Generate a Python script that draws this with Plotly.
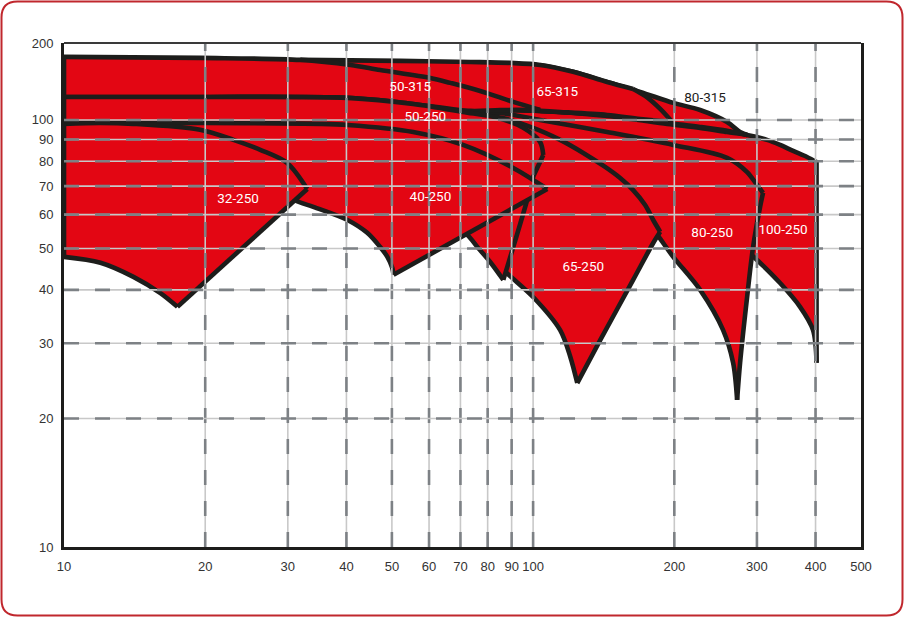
import numpy as np
import plotly.graph_objects as go

# ---------------- data (Q in m3/h, H in m) ----------------
x_ticks = [10, 20, 30, 40, 50, 60, 70, 80, 90, 100, 200, 300, 400, 500]
x_tick_text = ["10", "20", "30", "40", "50", "60", "70", "80", "90", "100", "200", "300", "400", "500"]
y_ticks = [10, 20, 30, 40, 50, 60, 70, 80, 90, 100]
y_top = 151.4
y_tick_text = ["10", "20", "30", "40", "50", "60", "70", "80", "90", "100", "200"]

grid_x = [20, 30, 40, 50, 60, 70, 80, 90, 100, 200, 300, 400]
grid_y = [20, 30, 40, 50, 60, 70, 80, 90, 100]

# pump ranges: closed outlines (max impeller -> end line -> min impeller);
# corner_* lists the point indices where the outline has a sharp corner
q_100_250 = [85.1, 103.5, 143.8, 193.1, 227, 259.1, 285.9, 315.2, 336.1, 358.3, 383.6, 402, 402,
             395.1, 370.7, 336.1, 300.2, 276.2, 227, 186.6, 139, 103.5, 87.2]
h_100_250 = [105.5, 105.0, 102.2, 97.9, 95.8, 93.7, 92.2, 89.8, 87.4, 84.6, 81.9, 79.7, 27.0,
             32.2, 36.5, 41.5, 47.0, 51.0, 60.9, 70.4, 85.1, 96.8, 104.4]
corner_100_250 = [0, 11, 12, 22]

q_80_250 = [73.5, 85.1, 103.5, 143.8, 198.9, 259.1, 285.9, 300.2, 309.2, 304.7, 294.4, 285.9, 276.2, 272.2,
            266.9, 254.1, 227, 198.9, 184.7, 169.1, 146, 126, 103.5, 89.4]
h_80_250 = [103.8, 103.8, 100.0, 93.7, 87.4, 81.5, 75.5, 70.4, 67.5, 62.6, 50.4, 38.5, 27.0, 22.1,
            27.0, 32.2, 40.0, 47.8, 53.5, 60.9, 71.6, 80.6, 89.8, 97.3]
corner_80_250 = [0, 8, 13, 23]

q_65_250 = [63.4, 73.5, 83.9, 100, 114.2, 127.9, 142.4, 153.3, 163.4, 173.3, 180.3, 186.6,
            180.3, 163.4, 139, 124.2, 120, 114.2, 100, 86.4, 79.1, 73.5]
h_65_250 = [89.8, 101.1, 101.6, 95.8, 89.8, 83.7, 77.6, 73.1, 68.5, 63.2, 58.3, 54.7,
            51.5, 42.2, 30.5, 24.2, 27.9, 32.2, 38.5, 44.6, 50.1, 64.9]
corner_65_250 = [0, 11, 15, 21]

q_80_315 = [103.5, 121.7, 143.8, 169.1, 198.9, 227, 259.1, 276.2, 285.9, 259.1, 227, 193.1, 143.8, 114.2, 103.5]
h_80_315 = [134.5, 129.6, 122.7, 116.3, 109.6, 105.5, 98.9, 93.7, 92.2, 94.3, 96.3, 98.4, 102.7, 104.4, 105.0]
corner_80_315 = [0, 8, 14]

q_65_315 = [31.9, 52.1, 73.5, 89.4, 103.5, 121.7, 143.8, 163.4, 173.3, 186.6, 197.9,
            169.1, 143.8, 114.2, 103.5, 85.1, 70.9]
h_65_315 = [138.2, 137.5, 136.7, 136.0, 134.5, 129.6, 122.7, 118.2, 113.8, 106.1, 98.9,
            100.5, 102.7, 104.4, 105.0, 106.1, 107.3]
corner_65_315 = [0, 7, 10, 16]

q_50_315 = [10, 19.5, 31.9, 40.8, 47.2, 60.4, 66.6, 77.1, 90.7, 103.5, 85.1, 73.5, 55.5, 40.2, 19.5, 10]
h_50_315 = [140.5, 139.7, 138.2, 134.5, 130.9, 125.4, 122.1, 116.9, 110.2, 105.5, 105.5, 105.0, 109.0, 112.6, 113.2, 113.2]
corner_50_315 = [0, 9, 15]

q_50_250 = [10, 19.5, 40.2, 55.5, 70.9, 83.9, 95.3, 103.5, 105.1, 100, 97.1, 86.4,
            81.0, 76.4, 72.4, 63.4, 52.1, 31.9, 19.5, 10]
h_50_250 = [113.2, 113.2, 112.6, 109.0, 104.4, 101.1, 95.8, 88.8, 82.8, 73.6, 64.9, 42.2,
            46.5, 50.1, 53.8, 59.9, 66.7, 76.4, 85.1, 89.8]
corner_50_250 = [0, 8, 9, 11, 19]

q_40_250 = [10, 19.5, 35.2, 40.2, 55.5, 70.9, 90.7, 107.2, 50.4,
            50.1, 48.9, 47.2, 44.3, 40.2, 34.0, 31.1, 28.9, 19.5, 10]
h_40_250 = [98.4, 98.4, 97.9, 97.3, 93.7, 87.4, 77.2, 68.9, 43.4,
            45.0, 47.8, 50.4, 54.4, 58.3, 62.6, 64.9, 70.4, 76.4, 80.6]
corner_40_250 = [0, 7, 8, 18]

q_32_250 = [10, 11.96, 14.06, 19.5, 22.97, 26.2, 29.9, 33.0, 17.45, 16.05, 14.06, 11.96, 10]
h_32_250 = [97.9, 98.4, 97.9, 94.8, 89.8, 85.1, 79.3, 68.9, 36.5, 39.3, 42.9, 46.3, 47.8]
corner_32_250 = [0, 7, 8, 12]

# labels
label_text = ["50-315", "50-250", "32-250", "40-250", "65-315", "65-250", "80-315", "80-250", "100-250"]
label_q = [54.7, 58.9, 23.5, 60.4, 112.6, 127.9, 232.6, 240.8, 341]
label_h = [118.8, 101.1, 64.9, 65.6, 115.7, 45.0, 112.0, 54.1, 55.0]
label_dark = [False, False, False, False, False, False, True, False, False]

# ---------------- styling ----------------
RED = "#e30613"
INK = "#1d1d1b"
TICK_FONT = dict(family="Liberation Sans Narrow, Arial Narrow, Liberation Sans, sans-serif", size=13, color="#333333")
LABEL_FONT = "Roboto, Liberation Sans, sans-serif"
OUTLINE_W = 4.6

fig = go.Figure()

regions = [
    (q_100_250, h_100_250, corner_100_250),
    (q_80_250, h_80_250, corner_80_250),
    (q_65_250, h_65_250, corner_65_250),
    (q_80_315, h_80_315, corner_80_315),
    (q_65_315, h_65_315, corner_65_315),
    (q_50_315, h_50_315, corner_50_315),
    (q_50_250, h_50_250, corner_50_250),
    (q_40_250, h_40_250, corner_40_250),
    (q_32_250, h_32_250, corner_32_250),
]
for q, h, corners in regions:
    fig.add_trace(go.Scatter(
        x=list(q) + [q[0]], y=list(h) + [h[0]], mode="lines",
        fill="toself", fillcolor=RED, line=dict(color=RED, width=0),
        hoverinfo="skip", showlegend=False,
    ))
    for a, b in zip(corners[:-1], corners[1:]):
        fig.add_trace(go.Scatter(
            x=q[a:b + 1], y=h[a:b + 1], mode="lines",
            line=dict(color=INK, width=OUTLINE_W, shape="spline" if b - a > 1 else "linear", smoothing=0.9),
            hoverinfo="skip", showlegend=False,
        ))
    fig.add_trace(go.Scatter(
        x=[q[-1], q[0]], y=[h[-1], h[0]], mode="lines",
        line=dict(color=INK, width=OUTLINE_W),
        hoverinfo="skip", showlegend=False,
    ))

# grid drawn above the areas
vx, vy = [], []
for v in grid_x:
    vx += [v, v, None]
    vy += [10, y_top, None]
hx, hy = [], []
for v in grid_y:
    hx += [10, 500, None]
    hy += [v, v, None]
for xs, ys in ((vx, vy), (hx, hy)):
    fig.add_trace(go.Scatter(x=xs, y=ys, mode="lines", line=dict(color="#c8c8c8", width=1.6),
                             hoverinfo="skip", showlegend=False))
    fig.add_trace(go.Scatter(x=xs, y=ys, mode="lines",
                             line=dict(color="#7d8185", width=2.6, dash="15px,16px"),
                             hoverinfo="skip", showlegend=False))

fig.add_trace(go.Scatter(
    x=label_q, y=label_h, text=label_text, mode="text",
    textfont=dict(family=LABEL_FONT, size=13.5,
                  color=[INK if d else "white" for d in label_dark]),
    hoverinfo="skip", showlegend=False,
))

# ---------------- layout ----------------
W, H = 905, 618
ML, MR, MT, MB = 64, 44, 43, 71
PW, PH = W - ML - MR, H - MT - MB


def px(xp):
    return (xp - ML) / PW


def py(yp):
    return (H - MB - yp) / PH


l, r, t, b, rad = 1.5, 902.5, 1.5, 615.5, 16
frame = (
    f"M {px(l + rad)} {py(t)} L {px(r - rad)} {py(t)} Q {px(r)} {py(t)} {px(r)} {py(t + rad)} "
    f"L {px(r)} {py(b - rad)} Q {px(r)} {py(b)} {px(r - rad)} {py(b)} "
    f"L {px(l + rad)} {py(b)} Q {px(l)} {py(b)} {px(l)} {py(b - rad)} "
    f"L {px(l)} {py(t + rad)} Q {px(l)} {py(t)} {px(l + rad)} {py(t)} Z"
)

fig.update_layout(
    width=W, height=H,
    margin=dict(l=ML, r=MR, t=MT, b=MB),
    paper_bgcolor="white", plot_bgcolor="white",
    showlegend=False,
    xaxis=dict(type="log", range=[1, np.log10(500)], tickmode="array",
               tickvals=x_ticks, ticktext=x_tick_text, showgrid=False, zeroline=False,
               showline=True, linecolor=INK, linewidth=3, mirror=False, ticks="",
               tickfont=TICK_FONT, ticklabelstandoff=5),
    yaxis=dict(type="log", range=[1, np.log10(y_top)], tickmode="array",
               tickvals=y_ticks + [y_top], ticktext=y_tick_text, showgrid=False, zeroline=False,
               showline=True, linecolor=INK, linewidth=3, mirror=True, ticks="",
               tickfont=TICK_FONT, ticklabelstandoff=5),
    shapes=[
        dict(type="line", xref="paper", yref="paper", x0=0, x1=1, y0=1, y1=1,
             line=dict(color="#3a3a3a", width=2)),
        dict(type="path", xref="paper", yref="paper", path=frame,
             line=dict(color="#c0272d", width=2), fillcolor="rgba(0,0,0,0)"),
    ],
)

fig.write_html("out.html", config={"displayModeBar": False, "staticPlot": True},
               post_script="document.body.style.margin='0';document.body.style.overflow='hidden';")
